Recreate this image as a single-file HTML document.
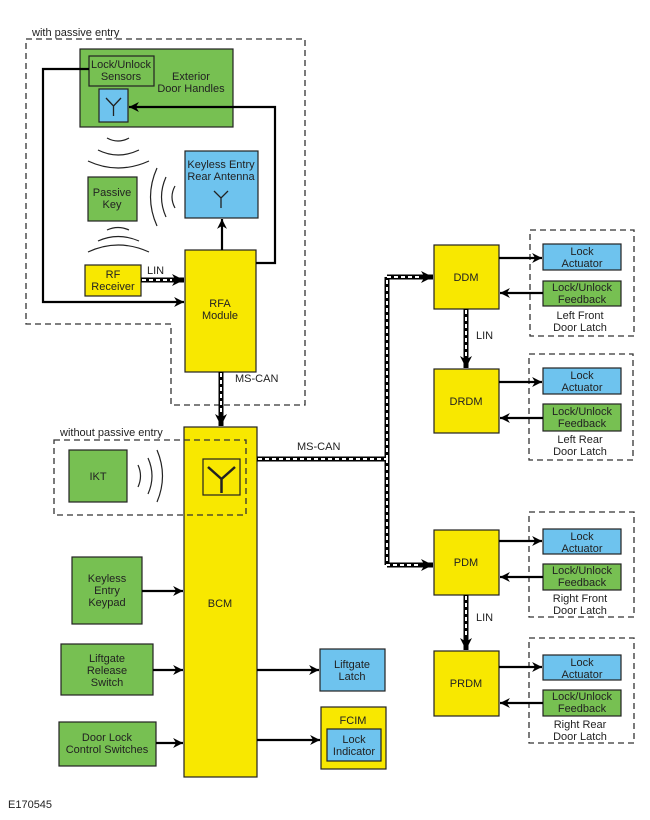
<!DOCTYPE html>
<html><head><meta charset="utf-8"><style>body{margin:0;background:#fff}svg{display:block}text{font-family:"Liberation Sans",sans-serif;font-size:11px;fill:#222}</style></head><body>
<svg width="650" height="820" viewBox="0 0 650 820" xmlns="http://www.w3.org/2000/svg">
<defs>
<marker id="a" viewBox="0 0 10 10" refX="10" refY="5" markerWidth="6" markerHeight="4.5" orient="auto" markerUnits="strokeWidth"><path d="M0,0 L10,5 L0,10 L3,5 z" fill="#000"/></marker>
<marker id="b" viewBox="0 0 10 10" refX="10" refY="5" markerWidth="2.6" markerHeight="2.4" orient="auto" markerUnits="strokeWidth"><path d="M0,0 L10,5 L0,10 L3,5 z" fill="#000"/></marker>
</defs>
<text x="32" y="36">with passive entry</text>
<text x="60" y="436">without passive entry</text>
<g stroke="#222" stroke-width="1.2">
<rect x="80" y="49" width="153" height="78" fill="#77c052"/>
<rect x="89" y="56" width="65" height="30" fill="#77c052"/>
<rect x="99" y="89" width="29" height="33" fill="#6ec3ee"/>
<rect x="88" y="177" width="49" height="44" fill="#77c052"/>
<rect x="185" y="151" width="73" height="67" fill="#6ec3ee"/>
<rect x="85" y="265" width="56" height="31" fill="#f8e800"/>
<rect x="185" y="250" width="71" height="122" fill="#f8e800"/>
<rect x="184" y="427" width="73" height="350" fill="#f8e800"/>
<rect x="69" y="450" width="58" height="52" fill="#77c052"/>
<rect x="203" y="459" width="37" height="36" fill="#f8e800"/>
<rect x="72" y="557" width="70" height="67" fill="#77c052"/>
<rect x="61" y="644" width="92" height="51" fill="#77c052"/>
<rect x="59" y="722" width="97" height="44" fill="#77c052"/>
<rect x="320" y="649" width="65" height="42" fill="#6ec3ee"/>
<rect x="321" y="707" width="65" height="62" fill="#f8e800"/>
<rect x="327" y="729" width="54" height="32" fill="#6ec3ee"/>
<rect x="434" y="245" width="65" height="64" fill="#f8e800"/>
<rect x="434" y="369" width="65" height="64" fill="#f8e800"/>
<rect x="434" y="530" width="65" height="65" fill="#f8e800"/>
<rect x="434" y="651" width="65" height="65" fill="#f8e800"/>
<rect x="543" y="244" width="78" height="26" fill="#6ec3ee"/>
<rect x="543" y="281" width="78" height="25" fill="#77c052"/>
<rect x="543" y="368" width="78" height="26" fill="#6ec3ee"/>
<rect x="543" y="404" width="78" height="27" fill="#77c052"/>
<rect x="543" y="529" width="78" height="25" fill="#6ec3ee"/>
<rect x="543" y="564" width="78" height="26" fill="#77c052"/>
<rect x="543" y="655" width="78" height="25" fill="#6ec3ee"/>
<rect x="543" y="690" width="78" height="26" fill="#77c052"/>
</g>
<g fill="none" stroke="#333" stroke-width="1.3" stroke-dasharray="6,4">
<path d="M26,39 H305 V405 H171 V324 H26 Z"/>
<rect x="54" y="440" width="192" height="75"/>
<rect x="530" y="230" width="104" height="106"/>
<rect x="529" y="354" width="104" height="106"/>
<rect x="529" y="512" width="105" height="105"/>
<rect x="529" y="638" width="105" height="105"/>
</g>
<g stroke="#222" stroke-width="1.3" fill="none">
<path d="M106,98 L113.5,106 L121,98 M113.5,106 V116"/>
<path d="M214,191 L221,198 L228,191 M221,198 V208"/>
<path d="M208,467 L221.5,479 L235,467 M221.5,479 V493" stroke-width="2.5"/>
</g>
<g stroke="#222" stroke-width="1.2" fill="none">
<path d="M107,138 Q118,144 129,138"/><path d="M98,150 Q118,160 139,150"/><path d="M88,161 Q118,175 149,161"/>
<path d="M107,230 Q118,225 129,230"/><path d="M98,241 Q118,232 139,241"/><path d="M88,252 Q118,238 149,252"/>
<path d="M175,186 Q169,197 175,208"/><path d="M166,177 Q157,197 166,217"/><path d="M157,168 Q144,197 157,226"/>
<path d="M138,465 Q143,476 138,487"/><path d="M148,458 Q156,476 148,494"/><path d="M157,450 Q168,476 157,502"/>
</g>
<g stroke="#000" stroke-width="2.2" fill="none" marker-end="url(#a)">
<path d="M89,69 H43 V302 H184"/>
<path d="M256,263 H275 V107 H129"/>
<path d="M222,250 V219"/>
<path d="M142,591 H183"/>
<path d="M153,670 H183"/>
<path d="M156,743 H183"/>
<path d="M257,670 H319"/>
<path d="M257,740 H320"/>
<path d="M499,258 H542"/><path d="M543,293 H500"/>
<path d="M499,382 H542"/><path d="M543,418 H500"/>
<path d="M499,541 H542"/><path d="M543,577 H500"/>
<path d="M499,667 H542"/><path d="M543,703 H500"/>
</g>
<g fill="none" stroke="#000" stroke-width="5">
<path d="M141,280 H184" marker-end="url(#b)"/>
<path d="M221,372 V426" marker-end="url(#b)"/>
<path d="M257,459 H387"/>
<path d="M387,277 V565"/>
<path d="M387,277 H433" marker-end="url(#b)"/>
<path d="M387,565 H433" marker-end="url(#b)"/>
<path d="M466,309 V368" marker-end="url(#b)"/>
<path d="M466,595 V650" marker-end="url(#b)"/>
</g>
<g fill="none" stroke="#fff" stroke-width="2" stroke-dasharray="4,3">
<path d="M142,280 H172"/><path d="M221,373 V414"/>
<path d="M258,459 H387 M387,459 V277"/><path d="M387,277 H421"/><path d="M387,459 V565 H421"/>
<path d="M466,310 V356"/><path d="M466,596 V638"/>
</g>
<g text-anchor="middle">
<text x="121" y="68">Lock/Unlock</text><text x="121" y="80">Sensors</text>
<text x="191" y="80">Exterior</text><text x="191" y="92">Door Handles</text>
<text x="112" y="196">Passive</text><text x="112" y="208">Key</text>
<text x="221" y="168">Keyless Entry</text><text x="221" y="180">Rear Antenna</text>
<text x="113" y="278">RF</text><text x="113" y="290">Receiver</text>
<text x="220" y="307">RFA</text><text x="220" y="319">Module</text>
<text x="98" y="480">IKT</text>
<text x="220" y="607">BCM</text>
<text x="107" y="582">Keyless</text><text x="107" y="594">Entry</text><text x="107" y="606">Keypad</text>
<text x="107" y="662">Liftgate</text><text x="107" y="674">Release</text><text x="107" y="686">Switch</text>
<text x="107" y="741">Door Lock</text><text x="107" y="753">Control Switches</text>
<text x="352" y="668">Liftgate</text><text x="352" y="680">Latch</text>
<text x="353" y="724">FCIM</text>
<text x="354" y="743">Lock</text><text x="354" y="755">Indicator</text>
<text x="466" y="281">DDM</text><text x="466" y="405">DRDM</text>
<text x="466" y="566">PDM</text><text x="466" y="687">PRDM</text>
<text x="582" y="255">Lock</text><text x="582" y="267">Actuator</text>
<text x="582" y="291">Lock/Unlock</text><text x="582" y="303">Feedback</text>
<text x="580" y="319">Left Front</text><text x="580" y="331">Door Latch</text>
<text x="582" y="379">Lock</text><text x="582" y="391">Actuator</text>
<text x="582" y="415">Lock/Unlock</text><text x="582" y="427">Feedback</text>
<text x="580" y="443">Left Rear</text><text x="580" y="455">Door Latch</text>
<text x="582" y="540">Lock</text><text x="582" y="552">Actuator</text>
<text x="582" y="574">Lock/Unlock</text><text x="582" y="586">Feedback</text>
<text x="580" y="602">Right Front</text><text x="580" y="614">Door Latch</text>
<text x="582" y="666">Lock</text><text x="582" y="678">Actuator</text>
<text x="582" y="700">Lock/Unlock</text><text x="582" y="712">Feedback</text>
<text x="580" y="728">Right Rear</text><text x="580" y="740">Door Latch</text>
</g>
<text x="147" y="274">LIN</text>
<text x="235" y="382">MS-CAN</text>
<text x="297" y="450">MS-CAN</text>
<text x="476" y="339">LIN</text>
<text x="476" y="621">LIN</text>
<text x="8" y="808">E170545</text>
</svg>
</body></html>
